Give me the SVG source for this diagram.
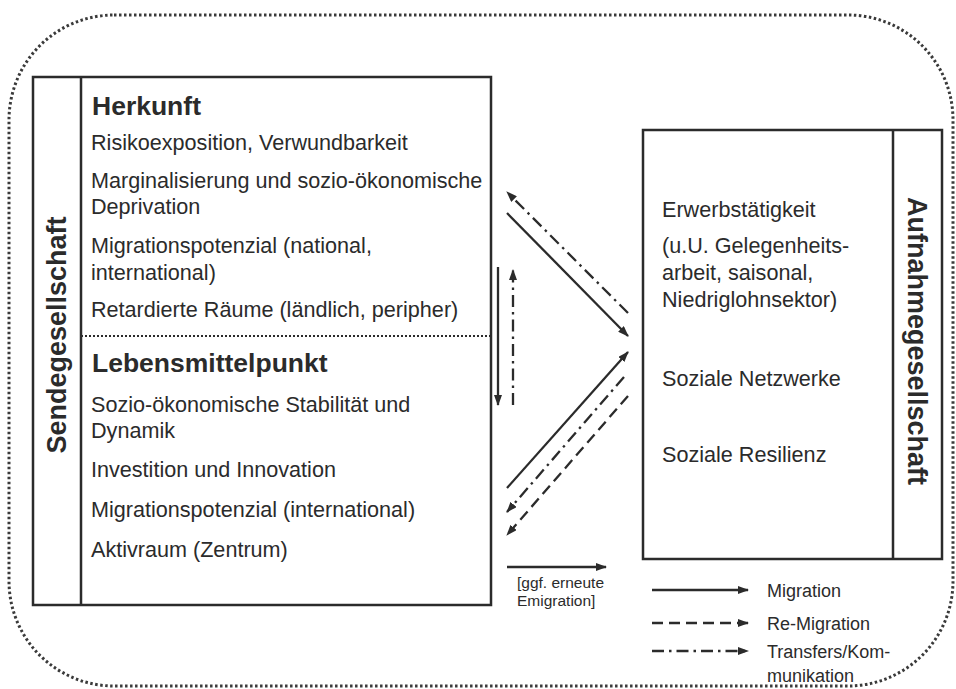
<svg xmlns="http://www.w3.org/2000/svg" width="956" height="689" viewBox="0 0 956 689">
<style>
text{font-family:"Liberation Sans",Arial,sans-serif;fill:#2b2b2b}
.t{font-size:21.6px}
.h{font-size:26.5px;font-weight:bold}
.v{font-size:27px;font-weight:bold}
.s{font-size:15.5px}
.l{font-size:18px}
.box{fill:none;stroke:#2b2b2b;stroke-width:2.5}
.ln{fill:none;stroke:#2b2b2b;stroke-width:2.3}
.da{stroke-dasharray:11 6}
.dd{stroke-dasharray:12 5 2.5 5}
</style>
<defs>
<marker id="ah" markerUnits="userSpaceOnUse" markerWidth="11" markerHeight="8" refX="10" refY="4" orient="auto">
<path d="M0,0 L11,4 L0,8 z" fill="#2b2b2b"/>
</marker>
</defs>
<rect id="boundary" x="9" y="15" width="944" height="671" rx="105" ry="105" fill="none" stroke="#3a3a3a" stroke-width="3" stroke-dasharray="2.5 2.5"/>
<g id="sendegesellschaft">
<rect class="box" x="33" y="77" width="458" height="528"/>
<line class="box" x1="81" y1="77" x2="81" y2="605"/>
<line x1="81" y1="336" x2="491" y2="336" stroke="#2b2b2b" stroke-width="2" stroke-dasharray="2 2"/>
<text class="v" transform="translate(66,335) rotate(-90)" text-anchor="middle">Sendegesellschaft</text>
<text class="h" x="92" y="115">Herkunft</text>
<text class="t" x="91" y="150">Risikoexposition, Verwundbarkeit</text>
<text class="t" x="91" y="188">Marginalisierung und sozio-ökonomische</text>
<text class="t" x="91" y="214">Deprivation</text>
<text class="t" x="91" y="253">Migrationspotenzial (national,</text>
<text class="t" x="91" y="280">international)</text>
<text class="t" x="91" y="317">Retardierte Räume (ländlich, peripher)</text>
<text class="h" x="92" y="372">Lebensmittelpunkt</text>
<text class="t" x="91" y="412">Sozio-ökonomische Stabilität und</text>
<text class="t" x="91" y="438">Dynamik</text>
<text class="t" x="91" y="477">Investition und Innovation</text>
<text class="t" x="91" y="517">Migrationspotenzial (international)</text>
<text class="t" x="91" y="557">Aktivraum (Zentrum)</text>
</g>
<g id="aufnahmegesellschaft">
<rect class="box" x="643" y="130" width="299" height="429"/>
<line class="box" x1="893" y1="130" x2="893" y2="559"/>
<text class="v" transform="translate(908,341) rotate(90)" text-anchor="middle">Aufnahmegesellschaft</text>
<text class="t" x="662" y="217">Erwerbstätigkeit</text>
<text class="t" x="662" y="253">(u.U. Gelegenheits-</text>
<text class="t" x="662" y="280">arbeit, saisonal,</text>
<text class="t" x="662" y="307">Niedriglohnsektor)</text>
<text class="t" x="662" y="386">Soziale Netzwerke</text>
<text class="t" x="662" y="462">Soziale Resilienz</text>
</g>
<g id="connectors">
<line class="ln dd" x1="628" y1="313" x2="507" y2="192" marker-end="url(#ah)"/>
<line class="ln" x1="507" y1="213" x2="628" y2="336" marker-end="url(#ah)"/>
<line class="ln" x1="498" y1="267" x2="498" y2="405" marker-end="url(#ah)"/>
<line class="ln dd" x1="513" y1="405" x2="513" y2="270" marker-end="url(#ah)"/>
<line class="ln" x1="507" y1="488" x2="628" y2="352" marker-end="url(#ah)"/>
<line class="ln dd" x1="624" y1="377" x2="507" y2="512" marker-end="url(#ah)"/>
<line class="ln da" x1="628" y1="396" x2="507" y2="535" marker-end="url(#ah)"/>
<line class="ln" x1="507" y1="567" x2="606" y2="567" marker-end="url(#ah)"/>
<text class="s" x="517" y="588">[ggf. erneute</text>
<text class="s" x="517" y="606">Emigration]</text>
</g>
<g id="legend">
<line class="ln" x1="652" y1="590" x2="748" y2="590" marker-end="url(#ah)"/>
<text class="l" x="767" y="597">Migration</text>
<line class="ln da" x1="652" y1="623" x2="748" y2="623" marker-end="url(#ah)"/>
<text class="l" x="767" y="630">Re-Migration</text>
<line class="ln dd" x1="652" y1="651" x2="748" y2="651" marker-end="url(#ah)"/>
<text class="l" x="767" y="658">Transfers/Kom-</text>
<text class="l" x="767" y="682">munikation</text>
</g>
</svg>
